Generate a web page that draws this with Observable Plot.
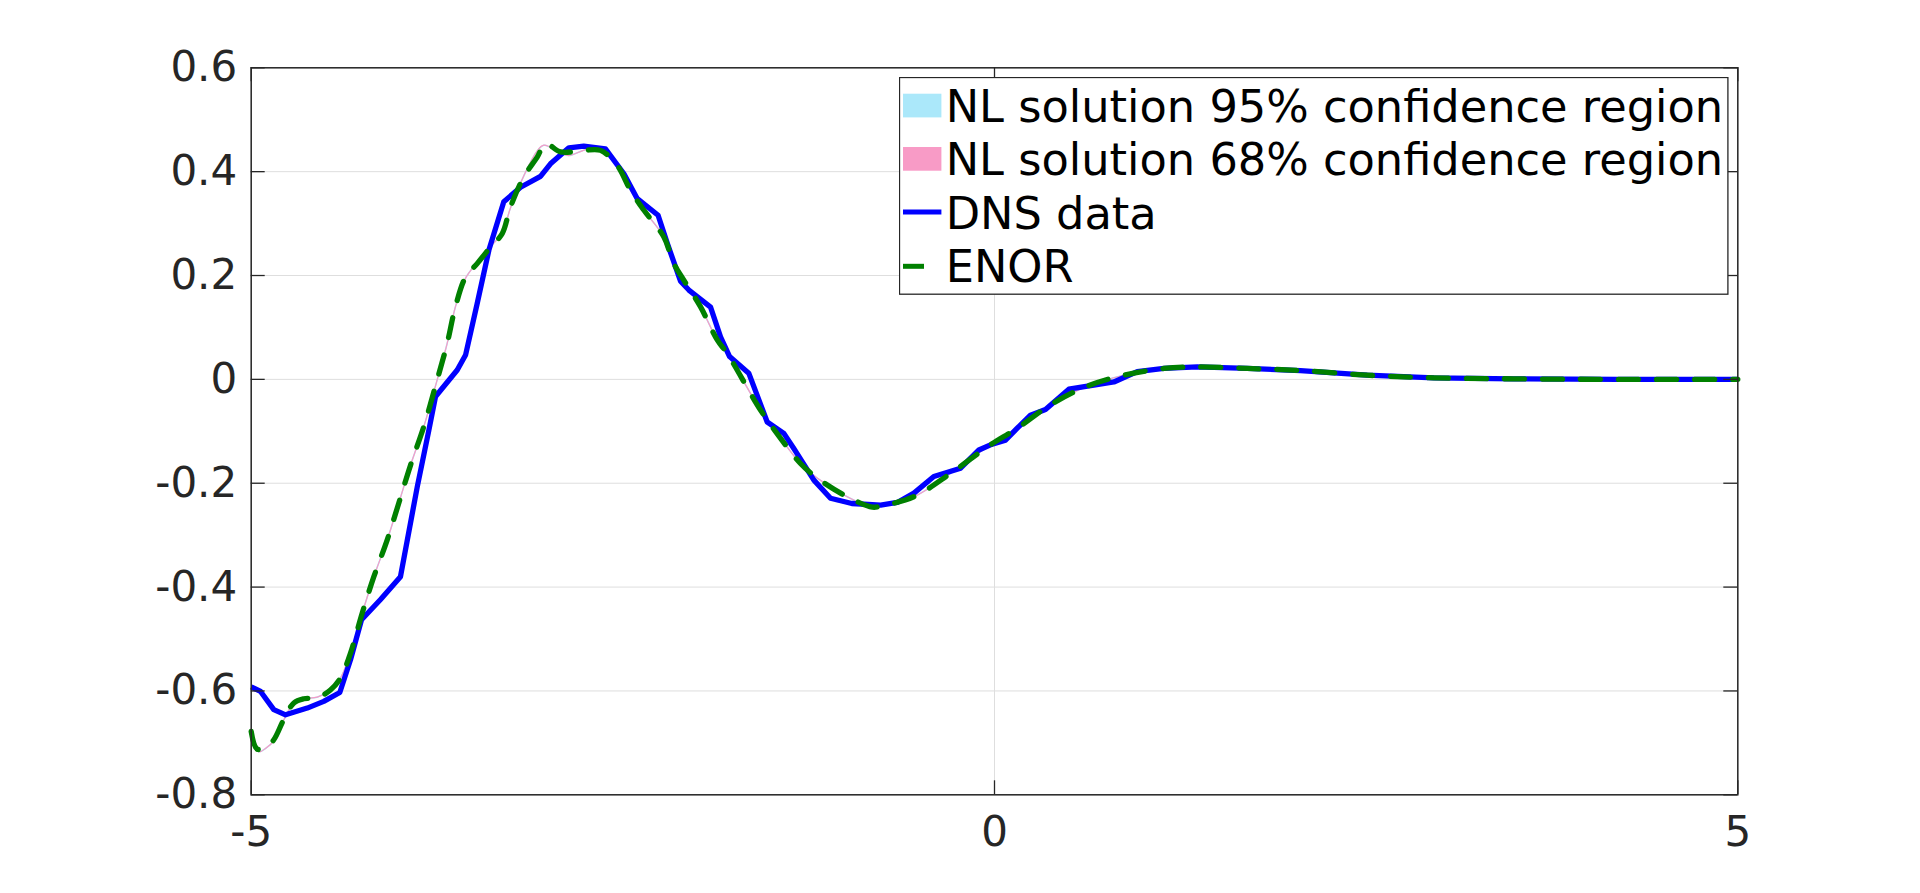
<!DOCTYPE html>
<html><head><meta charset="utf-8">
<script src="https://cdn.jsdelivr.net/npm/d3@7"></script>
<script src="https://cdn.jsdelivr.net/npm/@observablehq/plot@0.6"></script>
<style>
html,body{margin:0;padding:0;background:#fff;}
#wrap{position:relative;width:1920px;height:893px;overflow:hidden;background:#fff;}
#legend{position:absolute;left:899.3px;top:77.3px;}
</style></head><body><div id="wrap"></div>
<script>
// ---- data ----
const dnsX = [-5.000,-4.937,-4.848,-4.769,-4.623,-4.512,-4.404,-4.332,-4.258,-4.130,-3.996,-3.883,-3.805,-3.760,-3.614,-3.558,-3.480,-3.401,-3.301,-3.188,-3.054,-2.987,-2.863,-2.763,-2.617,-2.493,-2.403,-2.263,-2.201,-2.112,-2.056,-1.910,-1.843,-1.782,-1.653,-1.529,-1.417,-1.350,-1.215,-1.103,-0.960,-0.766,-0.654,-0.542,-0.408,-0.228,-0.105,-0.027,0.074,0.153,0.242,0.343,0.500,0.668,0.803,0.960,1.139,1.364,1.700,2.058,2.507,2.956,3.494,4.200,5.000];
const dnsY = [-0.592,-0.601,-0.636,-0.646,-0.633,-0.620,-0.603,-0.540,-0.463,-0.424,-0.380,-0.207,-0.098,-0.033,0.018,0.047,0.146,0.249,0.342,0.370,0.391,0.415,0.446,0.449,0.444,0.396,0.348,0.316,0.262,0.189,0.172,0.139,0.082,0.044,0.012,-0.082,-0.104,-0.133,-0.194,-0.229,-0.239,-0.242,-0.237,-0.219,-0.187,-0.171,-0.136,-0.126,-0.117,-0.094,-0.069,-0.058,-0.019,-0.011,-0.005,0.015,0.021,0.024,0.021,0.017,0.008,0.003,0.001,0.000,0.000];

const enorX = [-5.000,-4.960,-4.900,-4.848,-4.781,-4.713,-4.646,-4.556,-4.467,-4.399,-4.332,-4.253,-4.175,-4.085,-4.007,-3.928,-3.839,-3.749,-3.682,-3.626,-3.558,-3.480,-3.390,-3.311,-3.256,-3.166,-3.076,-3.020,-2.919,-2.763,-2.650,-2.538,-2.448,-2.359,-2.224,-2.157,-2.090,-1.978,-1.865,-1.798,-1.574,-1.440,-1.305,-1.193,-0.991,-0.821,-0.766,-0.542,-0.295,-0.048,0.153,0.377,0.624,0.870,1.139,1.364,1.700,2.058,2.507,2.956,3.494,4.200,5.000];
const enorY = [-0.678,-0.712,-0.708,-0.694,-0.655,-0.623,-0.615,-0.613,-0.598,-0.575,-0.527,-0.450,-0.380,-0.309,-0.238,-0.165,-0.091,-0.001,0.069,0.140,0.197,0.223,0.255,0.281,0.332,0.390,0.428,0.454,0.438,0.441,0.441,0.412,0.364,0.326,0.274,0.223,0.191,0.140,0.076,0.050,-0.059,-0.113,-0.162,-0.190,-0.226,-0.246,-0.244,-0.226,-0.181,-0.130,-0.094,-0.049,-0.013,0.008,0.021,0.024,0.021,0.017,0.008,0.003,0.001,0.000,0.000];

const nlX = [-5.000,-4.949,-4.900,-4.848,-4.781,-4.713,-4.646,-4.556,-4.467,-4.399,-4.332,-4.253,-4.175,-4.085,-4.007,-3.928,-3.839,-3.749,-3.682,-3.626,-3.558,-3.480,-3.390,-3.311,-3.256,-3.166,-3.076,-3.031,-2.919,-2.863,-2.740,-2.650,-2.538,-2.448,-2.359,-2.224,-2.157,-2.090,-1.978,-1.865,-1.798,-1.574,-1.440,-1.305,-1.193,-0.991,-0.821,-0.766,-0.542,-0.295,-0.048,0.153,0.377,0.624,0.870,1.139,1.364,1.700,2.058,2.507,2.956,3.494,4.200,5.000];
const nlY = [-0.690,-0.717,-0.710,-0.696,-0.656,-0.623,-0.615,-0.612,-0.598,-0.575,-0.527,-0.450,-0.380,-0.309,-0.238,-0.165,-0.091,-0.001,0.069,0.140,0.195,0.225,0.256,0.282,0.330,0.392,0.440,0.451,0.436,0.431,0.443,0.440,0.412,0.364,0.326,0.274,0.223,0.191,0.140,0.076,0.050,-0.059,-0.113,-0.162,-0.190,-0.226,-0.246,-0.244,-0.226,-0.181,-0.130,-0.094,-0.049,-0.013,0.008,0.021,0.024,0.021,0.017,0.008,0.003,0.001,0.000,0.000];

const xTicks = [-5, 0, 5];
const xTickLabels = ["-5", "0", "5"];
const yTicks = [-0.8, -0.6, -0.4, -0.2, 0, 0.2, 0.4, 0.6];
const yTickLabels = ["-0.8", "-0.6", "-0.4", "-0.2", "0", "0.2", "0.4", "0.6"];

const legendLabels = ["NL solution 95% confidence region", "NL solution 68% confidence region", "DNS data", "ENOR"];
const legendKinds = ["patch", "patch", "line", "dash"];
const legendColors = ["#abe8fa", "#f89bc6", "#0000ff", "#008000"];

// ---- layout ----
const W = 1920, H = 893;
const mL = 250.7, mR = 182.7, mT = 67.3, mB = 98.7;
const pw = W - mL - mR, ph = H - mT - mB;
const tickLen = 14;

const dns = dnsX.map((x, i) => ({x, y: dnsY[i]}));
const enor = enorX.map((x, i) => ({x, y: enorY[i]}));
const nl = nlX.map((x, i) => ({x, y: nlY[i]}));

const fmt = (ticks, labels) => d => labels[ticks.findIndex(t => Math.abs(t - d) < 1e-9)];

const chart = Plot.plot({
  width: W, height: H,
  marginLeft: mL, marginRight: mR, marginTop: mT, marginBottom: mB,
  style: {fontFamily: "'DejaVu Sans', sans-serif", fontSize: "42px", color: "#262626", background: "white", overflow: "visible"},
  x: {domain: [-5, 5], ticks: xTicks, tickFormat: fmt(xTicks, xTickLabels), tickSize: 0, tickPadding: 21, label: null},
  y: {domain: [-0.8, 0.6], ticks: yTicks, tickFormat: fmt(yTicks, yTickLabels), tickSize: 0, tickPadding: 14, label: null},
  marks: [
    Plot.ruleY(yTicks, {stroke: "#dedede", strokeWidth: 1}),
    Plot.ruleX(xTicks, {stroke: "#dedede", strokeWidth: 1}),
    Plot.line(nl, {x: "x", y: "y", stroke: legendColors[0], strokeWidth: 1.5, curve: "catmull-rom"}),
    Plot.line(nl, {x: "x", y: "y", stroke: legendColors[1], strokeWidth: 1.2, curve: "catmull-rom"}),
    Plot.line(dns, {x: "x", y: "y", stroke: legendColors[2], strokeWidth: 5.3, strokeLinejoin: "round", strokeLinecap: "butt"}),
    Plot.line(enor, {x: "x", y: "y", stroke: legendColors[3], strokeWidth: 5.3, strokeDasharray: "20,18", curve: "catmull-rom"}),
    // inner tick marks
    Plot.ruleY(yTicks, {stroke: "#262626", strokeWidth: 1.3, insetRight: pw - tickLen}),
    Plot.ruleY(yTicks, {stroke: "#262626", strokeWidth: 1.3, insetLeft: pw - tickLen}),
    Plot.ruleX(xTicks, {stroke: "#262626", strokeWidth: 1.3, insetTop: ph - tickLen}),
    Plot.ruleX(xTicks, {stroke: "#262626", strokeWidth: 1.3, insetBottom: ph - tickLen}),
    Plot.frame({stroke: "#262626", strokeWidth: 1.5})
  ]
});
const wrap = document.getElementById("wrap");
wrap.appendChild(chart);

// ---- legend ----
const lw = 828.4, lh = 216.7, rowH = 53.3, base0 = 45;
const leg = d3.select(wrap).append("svg").attr("id", "legend")
  .attr("width", lw + 2).attr("height", lh + 2)
  .style("font-family", "'DejaVu Sans', sans-serif");
leg.append("rect").attr("x", 0.5).attr("y", 0.5).attr("width", lw).attr("height", lh)
  .attr("fill", "white").attr("stroke", "#262626").attr("stroke-width", 1.3);
legendLabels.forEach((label, i) => {
  const b = base0 + i * rowH;
  const k = legendKinds[i], c = legendColors[i];
  if (k === "patch") {
    leg.append("rect").attr("x", 4).attr("y", b - 28.3).attr("width", 38.4).attr("height", 23.7).attr("fill", c);
  } else if (k === "line") {
    leg.append("line").attr("x1", 4).attr("x2", 42.4).attr("y1", b - 16.7).attr("y2", b - 16.7)
      .attr("stroke", c).attr("stroke-width", 5);
  } else {
    leg.append("line").attr("x1", 4).attr("x2", 25).attr("y1", b - 15.6).attr("y2", b - 15.6)
      .attr("stroke", c).attr("stroke-width", 5);
  }
  leg.append("text").attr("x", 46.7).attr("y", b).attr("font-size", 44.7).attr("fill", "#000").text(label);
});
</script>
</body></html>
